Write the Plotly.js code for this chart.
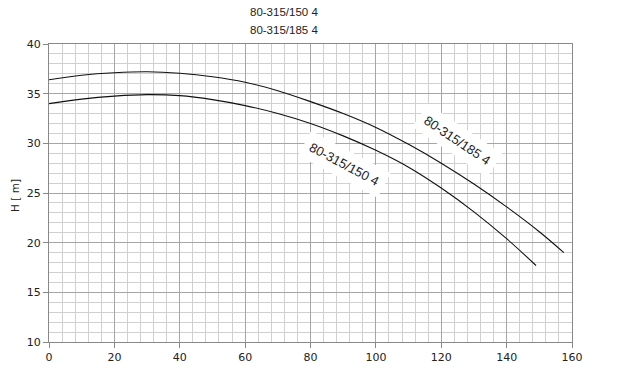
<!DOCTYPE html>
<html>
<head>
<meta charset="utf-8">
<script src="https://cdn.plot.ly/plotly-3.0.1.min.js"></script>
<style>html,body{margin:0;padding:0;background:#fff;}#chart{width:620px;height:380px;}</style>
</head>
<body>
<div id="chart"></div>
<script>
// Data
const seriesNames = ["80-315/150 4", "80-315/185 4"];
const q150 = [0, 10, 20, 30, 40, 50, 60, 70, 80, 90, 100, 110, 120, 130, 140, 149];
const h150 = [34.0, 34.45, 34.75, 34.9, 34.8, 34.4, 33.8, 33.0, 32.0, 30.75, 29.3, 27.6, 25.5, 23.1, 20.4, 17.7];
const q185 = [0, 10, 20, 30, 40, 50, 60, 70, 80, 90, 100, 110, 120, 130, 140, 150, 157.5];
const h185 = [36.4, 36.85, 37.1, 37.2, 37.05, 36.7, 36.15, 35.3, 34.2, 33.0, 31.6, 29.9, 28.0, 25.9, 23.6, 21.1, 19.0];
const yTitle = "H [ m]";

const traces = [
  {x: q150, y: h150, name: seriesNames[0], mode: "lines", line: {color: "#111", width: 1.1, shape: "spline", smoothing: 1}},
  {x: q185, y: h185, name: seriesNames[1], mode: "lines", line: {color: "#111", width: 1.1, shape: "spline", smoothing: 1}}
];

const layout = {
  width: 620, height: 380,
  margin: {l: 49, r: 48, t: 44, b: 38},
  paper_bgcolor: "#fff", plot_bgcolor: "#fff",
  showlegend: false,
  font: {family: "DejaVu Sans, sans-serif", size: 11, color: "#222"},
  xaxis: {
    range: [0, 160], dtick: 20, tick0: 0,
    showgrid: true, gridcolor: "#a6a6a6", gridwidth: 1,
    minor: {dtick: 4, showgrid: true, gridcolor: "#d0d0d0", gridwidth: 1},
    ticks: "outside", ticklen: 5, tickcolor: "#888",
    showline: true, linecolor: "#888", linewidth: 1, mirror: true,
    zeroline: false, fixedrange: true
  },
  yaxis: {
    range: [10, 40], dtick: 5, tick0: 10,
    showgrid: true, gridcolor: "#a6a6a6", gridwidth: 1,
    minor: {dtick: 1, showgrid: true, gridcolor: "#d0d0d0", gridwidth: 1},
    ticks: "outside", ticklen: 5, tickcolor: "#888",
    showline: true, linecolor: "#888", linewidth: 1, mirror: true,
    zeroline: false, fixedrange: true
  },
  annotations: [
    {text: seriesNames[0], xref: "paper", yref: "paper", x: 0.449, y: 1.107, showarrow: false,
     xanchor: "center", yanchor: "middle", font: {family: "Liberation Sans, sans-serif", size: 11.5, color: "#222"}},
    {text: seriesNames[1], xref: "paper", yref: "paper", x: 0.449, y: 1.047, showarrow: false,
     xanchor: "center", yanchor: "middle", font: {family: "Liberation Sans, sans-serif", size: 11.5, color: "#222"}},
    {text: yTitle, xref: "paper", yref: "paper", x: -0.065, y: 0.49, showarrow: false, textangle: -90,
     xanchor: "center", yanchor: "middle", font: {family: "DejaVu Sans, sans-serif", size: 10.5, color: "#222"}},
    {text: seriesNames[0], x: 90.5, y: 27.9, showarrow: false, textangle: 28,
     bgcolor: "#fff", borderpad: 6, font: {family: "Liberation Sans, sans-serif", size: 13, color: "#222"}},
    {text: seriesNames[1], x: 125, y: 30.3, showarrow: false, textangle: 34,
     bgcolor: "#fff", borderpad: 6, font: {family: "Liberation Sans, sans-serif", size: 13, color: "#222"}}
  ]
};

Plotly.newPlot("chart", traces, layout, {staticPlot: true, displayModeBar: false});
</script>
</body>
</html>
